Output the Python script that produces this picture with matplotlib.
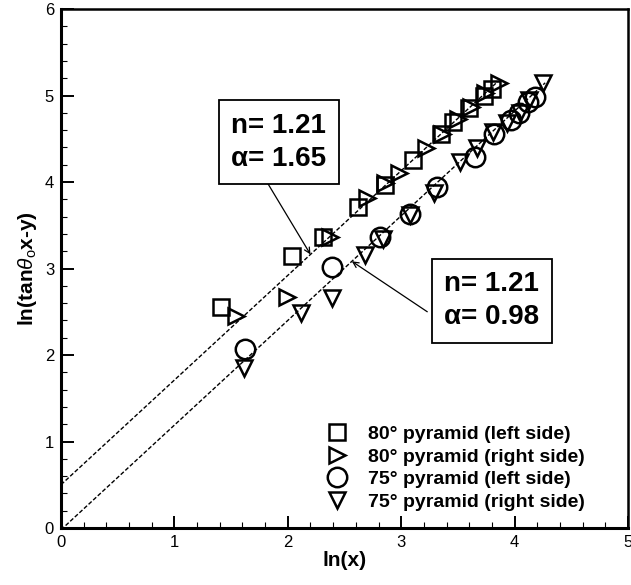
import numpy as np
import matplotlib
matplotlib.use('Agg')
import matplotlib.pyplot as plt
from matplotlib.ticker import MultipleLocator

plt.rcParams['font.family'] = ['Liberation Sans', 'DejaVu Sans']
plt.rcParams['mathtext.fontset'] = 'custom'
plt.rcParams['mathtext.rm'] = 'Liberation Sans'
plt.rcParams['mathtext.it'] = 'Liberation Sans:italic'
plt.rcParams['mathtext.bf'] = 'Liberation Sans:bold'

# 80 deg pyramid, left side
sq_x = [1.41, 2.04, 2.31, 2.62, 2.86, 3.10, 3.35, 3.46, 3.60, 3.73, 3.80]
sq_y = [2.55, 3.14, 3.37, 3.71, 3.97, 4.26, 4.55, 4.69, 4.85, 4.99, 5.07]
# 80 deg pyramid, right side
rt_x = [1.54, 1.99, 2.37, 2.70, 2.86, 2.98, 3.22, 3.36, 3.50, 3.62, 3.74, 3.86]
rt_y = [2.45, 2.67, 3.36, 3.82, 3.99, 4.10, 4.39, 4.56, 4.73, 4.87, 5.03, 5.15]
# 75 deg pyramid, left side
ci_x = [1.62, 2.39, 2.81, 3.08, 3.32, 3.65, 3.82, 3.97, 4.04, 4.12, 4.18]
ci_y = [2.07, 3.02, 3.36, 3.63, 3.94, 4.29, 4.55, 4.72, 4.80, 4.93, 4.98]
# 75 deg pyramid, right side
dt_x = [1.61, 2.12, 2.39, 2.68, 2.84, 3.08, 3.29, 3.52, 3.67, 3.81, 3.93, 4.05, 4.13, 4.25]
dt_y = [1.85, 2.48, 2.66, 3.16, 3.34, 3.62, 3.87, 4.23, 4.39, 4.58, 4.68, 4.80, 4.95, 5.15]

# fits: ln(tan(theta)x - y) = n ln(x) + ln(alpha)
n_fit = 1.21
alpha_80 = 1.65
alpha_75 = 0.98
fit_xmax_80 = 3.85
fit_xmax_75 = 4.27

labels = [u'80\u00b0 pyramid (left side)', u'80\u00b0 pyramid (right side)',
          u'75\u00b0 pyramid (left side)', u'75\u00b0 pyramid (right side)']

fig = plt.figure(figsize=(6.31, 5.85), dpi=100)
ax = fig.add_axes([0.0967, 0.0974, 0.8985, 0.8872])

kw = dict(linestyle='none', color='black', mfc='none', mew=1.8)
ax.plot(sq_x, sq_y, marker='s', ms=11, label=labels[0], **kw)
ax.plot(rt_x, rt_y, marker='>', ms=12, label=labels[1], **kw)
ax.plot(ci_x, ci_y, marker='o', ms=14, label=labels[2], **kw)
ax.plot(dt_x, dt_y, marker='v', ms=12, label=labels[3], **kw)

xs = np.array([0, fit_xmax_80])
ax.plot(xs, n_fit * xs + np.log(alpha_80), color='black', lw=1.0, dashes=(3, 1.5))
xs = np.array([0, fit_xmax_75])
ax.plot(xs, n_fit * xs + np.log(alpha_75), color='black', lw=1.0, dashes=(3, 1.5))

box = dict(boxstyle='square,pad=0.45', fc='white', ec='black', lw=1.3)
ax.text(1.92, 4.46, u'n= 1.21\n\u03b1= 1.65', ha='center', va='center',
        fontsize=20, fontweight='bold', linespacing=1.35, bbox=box, zorder=5)
ax.text(3.80, 2.63, u'n= 1.21\n\u03b1= 0.98', ha='center', va='center',
        fontsize=20, fontweight='bold', linespacing=1.35, bbox=box, zorder=5)

arrow = dict(arrowstyle='->', color='black', lw=0.9, shrinkA=0, shrinkB=0)
ax.annotate('', xy=(2.2, n_fit * 2.2 + np.log(alpha_80)), xytext=(1.825, 3.98),
            arrowprops=arrow)
ax.annotate('', xy=(2.565, n_fit * 2.565 + np.log(alpha_75)), xytext=(3.23, 2.50),
            arrowprops=arrow)

ax.set_xlim(0, 5)
ax.set_ylim(0, 6)
ax.xaxis.set_major_locator(MultipleLocator(1))
ax.xaxis.set_minor_locator(MultipleLocator(0.2))
ax.yaxis.set_major_locator(MultipleLocator(1))
ax.yaxis.set_minor_locator(MultipleLocator(0.2))
ax.tick_params(which='both', direction='in', top=False, right=False, labelsize=12)
ax.tick_params(which='major', length=9, width=1.4, pad=5)
ax.tick_params(which='minor', length=4.5, width=0.8)
for side in ['left', 'bottom']:
    ax.spines[side].set_linewidth(2.2)
for side in ['top', 'right']:
    ax.spines[side].set_linewidth(1.8)

ax.set_xlabel('ln(x)', fontsize=15, fontweight='bold', labelpad=1)
ax.set_ylabel(r'ln(tan$\theta_{\rm o}$x-y)', fontsize=15, fontweight='bold', labelpad=4)

ax.legend(loc='lower right', bbox_to_anchor=(0.924, 0.033), frameon=False,
          numpoints=1, handlelength=1.2, handletextpad=1.0, labelspacing=0.26,
          borderaxespad=0, borderpad=0, prop=dict(size=14, weight='bold'))

fig.savefig('out.png', dpi=100)
